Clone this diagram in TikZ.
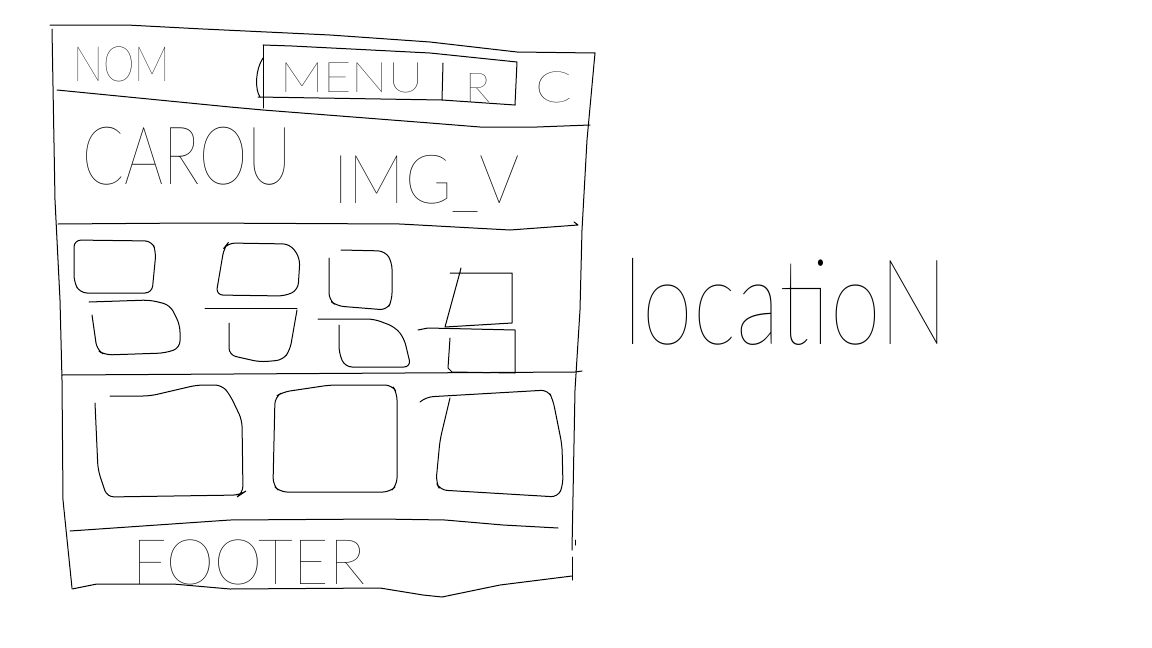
\documentclass[tikz,border=0pt]{standalone}
\usepackage{graphicx}
\usepackage{fontspec}
\IfFontExistsTF{Lato Hairline}
  {\newfontfamily\sketchfont{Lato Hairline}}
  {\newfontfamily\sketchfont{Lato}}
% hand lettering squeezed into a given box
\newcommand{\handtext}[3]{\resizebox*{#1}{#2}{\sketchfont #3}}

\begin{document}
\begin{tikzpicture}[x=1pt, y=-1pt,
    pen/.style={line width=1pt, line join=round, line cap=round},
    tile/.style={pen, rounded corners=7pt},
    word/.style={inner sep=0pt, anchor=north west}]
    \useasboundingbox (0,0) rectangle (1152,648);
    % Page frame
    \draw[pen] (50,25) -- (127,25) -- (203,29) -- (330,35) -- (430,42) -- (517,52) -- (595,53);
    \draw[pen] (52,29) -- (55,200) -- (60,300) -- (62,380) -- (63,500) -- (72,588);
    \draw[pen] (595,53) -- (587,140) -- (582,230) -- (580,310) -- (575,390) -- (572,550);
    \draw[pen] (572,557) -- (572,580);
    \draw[pen] (575,540) -- (575,545);
    \draw[pen] (72,589) -- (97,584) -- (173,584) -- (230,589) -- (380,588) -- (423,595) -- (442,597) -- (500,585) -- (572,576);
    % Header
    \node[word] (nom) at (73,47) {\handtext{97pt}{35pt}{NOM}};
    \draw[pen] (263,45) -- (292,46) -- (430,53) -- (517,62) -- (515,105);
    \draw[pen] (263,45) -- (263,108);
    \draw[pen] (258,97) -- (442,100) -- (515,105);
    \draw[pen] (443,63) -- (442,100);
    \draw[pen] (263,58) .. controls (255,70) and (255,90) .. (260,97);
    \node[word] (menu) at (280,63) {\handtext{143pt}{30pt}{MENU}};
    \node[word] (menuR) at (465,73) {\handtext{25pt}{29pt}{R}};
    \node[word] (menuC) at (535,72) {\handtext{37pt}{31pt}{C}};
    \draw[pen] (57,90) -- (230,107) -- (263,110) -- (430,123) -- (480,127) -- (537,127) -- (590,125);
    % Carousel
    \node[word] (carou) at (82,127) {\handtext{210pt}{58pt}{CAROU}};
    \node[word] (imgv) at (333,155) {\handtext{187pt}{57pt}{IMG\_V}};
    \draw[pen] (58,224) -- (193,223) -- (400,224) -- (510,230) -- (578,225) -- (574,222);
    % Small tiles
    \draw[tile] (74,240) -- (152,241) -- (156,252) -- (152,293) -- (80,293) -- (74,282) -- cycle;
    \draw[tile] (224,248) -- (228,243) -- (290,244) -- (300,258) -- (298,290) -- (285,296) -- (216,295) -- cycle;
    \draw[tile] (329,258) -- (329,300) -- (337,306) -- (387,310) -- (392,300) -- (392,262) -- (385,251) -- (341,250);
    \draw[pen] (450,273) -- (512,273) -- (512,323) -- (445,327) -- (460,272) -- (461,268);
    \draw[tile] (92,315) -- (97,350) -- (105,355) -- (165,353) -- (180,348) -- (180,325) -- (170,305) -- (150,300) -- (89,302);
    \draw[pen] (205,308) -- (297,308);
    \draw[tile] (229,323) -- (229,355) -- (260,362) -- (283,360) -- (290,350) -- (297,310);
    \draw[tile] (318,319) -- (374,319) -- (395,327) -- (404,338) -- (411,367) -- (345,367) -- (339,353) -- (339,325);
    \draw[pen] (450,338) -- (448,368) -- (452,372) -- (515,373) -- (515,330) -- (428,328) -- (418,330);
    \draw[pen] (62,375) -- (575,372) -- (582,371);
    % Big tiles
    \draw[tile] (110,396) -- (150,396) -- (197,385) -- (222,385) -- (230,395) -- (242,420) -- (243,493) -- (240,495) -- (107,497) -- (98,470) -- (95,403);
    \draw[tile] (283,392) -- (330,385) -- (392,385) -- (397,393) -- (397,485) -- (390,492) -- (280,492) -- (273,485) -- (275,397) -- cycle;
    \draw[tile] (420,402) -- (426,397) -- (548,390) -- (553,400) -- (562,445) -- (563,485) -- (558,497) -- (440,490) -- (436,482) -- (440,440) -- (450,398);
    % Footer
    \draw[pen] (70,531) -- (230,520) -- (380,519) -- (445,520) -- (503,525) -- (558,528);
    \node[word] (footer) at (132,540) {\handtext{233pt}{45pt}{FOOTER}};
    % Side note
    \node[word] (location) at (623,258) {\handtext{325pt}{87pt}{locatioN}};
\end{tikzpicture}
\end{document}
